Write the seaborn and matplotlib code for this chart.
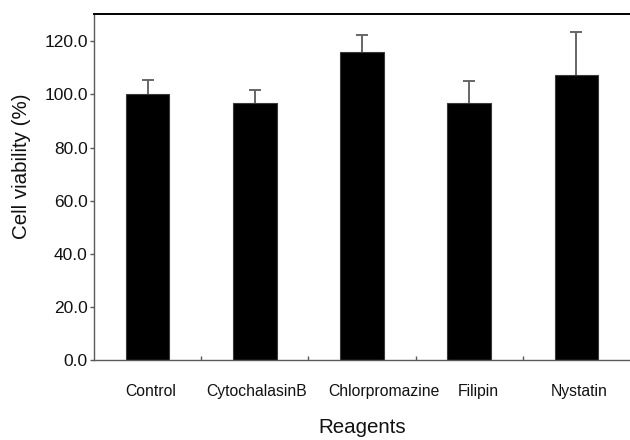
import numpy as np
import pandas as pd
import matplotlib
matplotlib.use("Agg")
import matplotlib.pyplot as plt
import matplotlib.transforms as mtransforms
from matplotlib.ticker import FixedLocator, FormatStrFormatter
import seaborn as sns

# ---- data ----
reagents = ["Control", "CytochalasinB", "Chlorpromazine", "Filipin", "Nystatin"]
viability = [100.0, 96.9, 115.8, 96.9, 107.2]
sd = [5.6, 4.7, 6.7, 8.0, 16.2]
y_ticks = [0.0, 20.0, 40.0, 60.0, 80.0, 100.0, 120.0]

df = pd.DataFrame({"Reagents": reagents, "Viability": viability})

sns.set_theme(style="white")
plt.rcParams["font.family"] = ["Liberation Sans", "DejaVu Sans"]

fig = plt.figure(figsize=(6.3, 4.4), dpi=100)
ax = fig.add_axes([94 / 630, 1 - 360 / 440, 1 - 94 / 630, (360 - 13.7) / 440])

sns.barplot(data=df, x="Reagents", y="Viability", order=reagents, color="black",
            saturation=1, width=0.405, errorbar=None, edgecolor="#3a3a3a",
            linewidth=0.8, ax=ax, zorder=2)

xpos = np.arange(len(reagents))
means = np.asarray(viability, dtype=float)
_, caps, _ = ax.errorbar(xpos, means, yerr=[np.zeros(len(sd)), sd], fmt="none",
                         ecolor="#666666", elinewidth=1.4, capsize=4, capthick=1.4,
                         zorder=1)
for c in caps:
    if np.allclose(c.get_ydata(), means):
        c.set_visible(False)

ax.set_xlim(-0.5, len(reagents) - 0.5)
ax.set_ylim(0, 130.4)
ax.set_yticks(y_ticks)
ax.yaxis.set_major_formatter(FormatStrFormatter("%.1f"))

# spines
for s in ["left", "bottom"]:
    ax.spines[s].set_color("#5a5a5a")
    ax.spines[s].set_linewidth(1.0)
ax.spines["top"].set_color("black")
ax.spines["top"].set_linewidth(1.4)
ax.spines["right"].set_visible(False)

ax.tick_params(axis="y", which="major", direction="out", length=3, width=1,
               color="#5a5a5a", labelsize=12.5, pad=1.5, left=True, labelcolor="#111111")
ax.tick_params(axis="x", which="major", length=0, pad=17, labelsize=11.3,
               labelcolor="#111111", bottom=True)
ax.xaxis.set_minor_locator(FixedLocator(xpos[:-1] + 0.5))
ax.tick_params(axis="x", which="minor", direction="in", length=3, width=1,
               color="#5a5a5a", bottom=True)

# small horizontal shifts of the category labels as in the original
label_shift_px = [3, 2, 22, 9, 3]
for lab, dx in zip(ax.get_xticklabels(), label_shift_px):
    lab.set_transform(lab.get_transform() +
                      mtransforms.ScaledTranslation(dx / 100, 0, fig.dpi_scale_trans))

ax.set_xlabel("Reagents", fontsize=14.8, labelpad=14, color="#111111")
ax.set_ylabel("Cell viability (%)", fontsize=14.8, color="#111111")
ax.yaxis.label.set_va("center")
ax.yaxis.set_label_coords(-0.136, 0.56)

fig.savefig("out.png", dpi=100)
